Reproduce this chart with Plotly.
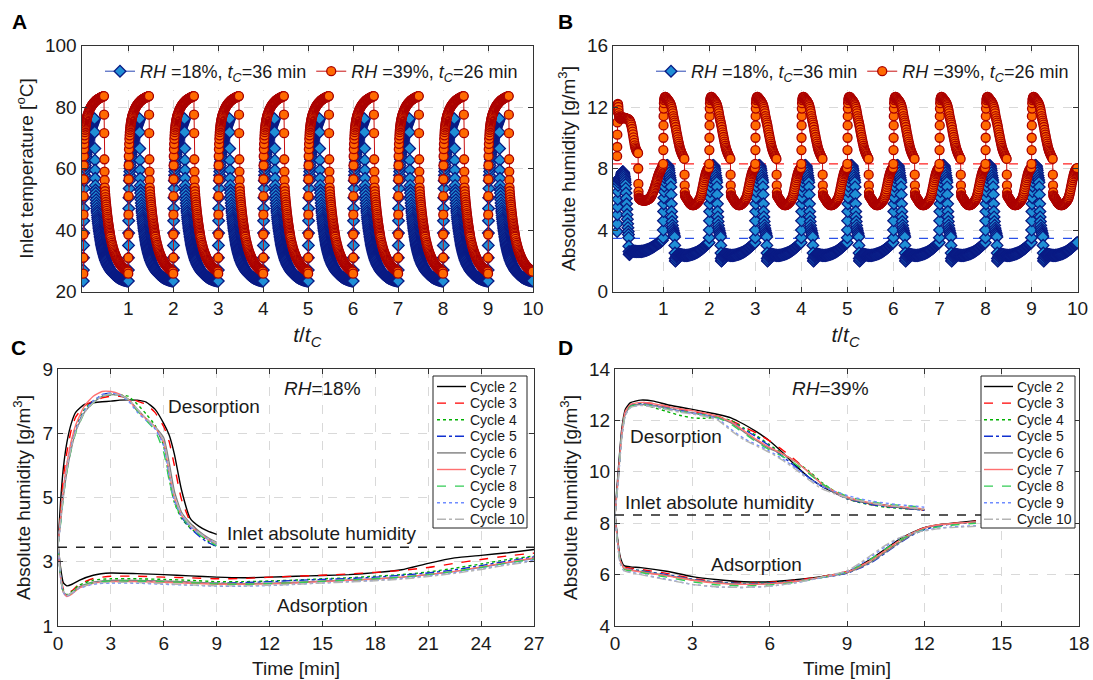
import plotly.graph_objects as go

FONT = "Arial, 'Liberation Sans', Helvetica, sans-serif"
TXT = "#1a1a1a"

N_CYCLES = 10

# ---------------- Panel A: inlet temperature over one cycle, (phase of cycle, degC)
A18_PROFILE = [
    (0.000, 23.4), (0.002, 27), (0.004, 31), (0.006, 35), (0.008, 39), (0.010, 43), (0.013, 47),
    (0.016, 50.5), (0.020, 53.5), (0.025, 56), (0.030, 57.8), (0.035, 59), (0.040, 60), (0.045, 61),
    (0.050, 62), (0.055, 62.9), (0.060, 63.7), (0.065, 64.5), (0.070, 65.2), (0.075, 65.8),
    (0.080, 66.4), (0.085, 66.9), (0.090, 67.4), (0.095, 67.9), (0.100, 68.3), (0.105, 68.7),
    (0.110, 69.1), (0.115, 69.5), (0.120, 69.8), (0.125, 70.2), (0.130, 70.5), (0.135, 70.8),
    (0.140, 71.1), (0.145, 71.4), (0.150, 71.7), (0.155, 72.0), (0.160, 72.3), (0.165, 72.55),
    (0.170, 72.8), (0.175, 73.05), (0.180, 73.3), (0.185, 73.55), (0.190, 73.8), (0.195, 74.0),
    (0.200, 74.2), (0.205, 74.4), (0.210, 74.6), (0.215, 74.8), (0.220, 75.0), (0.225, 75.2),
    (0.230, 75.4), (0.235, 75.6), (0.240, 75.8), (0.245, 76.0), (0.250, 76.2),
    (0.253, 71.8), (0.256, 66.5), (0.259, 62.7), (0.262, 59.5), (0.265, 56.8), (0.268, 54.5),
    (0.272, 53.0), (0.275, 52.0), (0.280, 50.9), (0.285, 49.8), (0.290, 48.8), (0.295, 47.9),
    (0.300, 47.0), (0.305, 46.2), (0.310, 45.5), (0.315, 44.7), (0.320, 44.0), (0.325, 43.4),
    (0.330, 42.8), (0.335, 42.2), (0.340, 41.6), (0.345, 41.0), (0.350, 40.5), (0.355, 40.0),
    (0.360, 39.5), (0.365, 39.0), (0.370, 38.5), (0.375, 38.0), (0.380, 37.55), (0.385, 37.1),
    (0.390, 36.65), (0.395, 36.2), (0.400, 35.8), (0.405, 35.4), (0.410, 35.05), (0.415, 34.7),
    (0.420, 34.35), (0.425, 34.0), (0.430, 33.7), (0.435, 33.4), (0.440, 33.1), (0.445, 32.8),
    (0.450, 32.5), (0.455, 32.25), (0.460, 32.0), (0.465, 31.7), (0.470, 31.45), (0.475, 31.2),
    (0.480, 30.95), (0.485, 30.7), (0.490, 30.45), (0.495, 30.2), (0.500, 30.0), (0.51, 29.6),
    (0.52, 29.25), (0.53, 28.9), (0.54, 28.6), (0.55, 28.3), (0.56, 28.05), (0.57, 27.8),
    (0.58, 27.55), (0.59, 27.25), (0.60, 27.0), (0.61, 26.8), (0.62, 26.6), (0.63, 26.4),
    (0.64, 26.2), (0.65, 26.0), (0.66, 25.85), (0.67, 25.7), (0.68, 25.55), (0.69, 25.45),
    (0.70, 25.3), (0.71, 25.2), (0.72, 25.1), (0.73, 24.95), (0.74, 24.85), (0.75, 24.7),
    (0.76, 24.62), (0.77, 24.55), (0.78, 24.47), (0.79, 24.4), (0.80, 24.3), (0.81, 24.25),
    (0.82, 24.2), (0.83, 24.12), (0.84, 24.06), (0.85, 24.0), (0.86, 23.95), (0.87, 23.9),
    (0.88, 23.85), (0.89, 23.8), (0.90, 23.75), (0.91, 23.71), (0.92, 23.67), (0.93, 23.63),
    (0.94, 23.59), (0.95, 23.55), (0.96, 23.52), (0.97, 23.5), (0.98, 23.47), (0.99, 23.45),
]
A39_PROFILE = [
    (0.000, 25.8), (0.0015, 31), (0.003, 38.5), (0.0045, 45), (0.006, 51), (0.0075, 56.5),
    (0.009, 61), (0.012, 64), (0.016, 66.3), (0.020, 68.0), (0.025, 69.6), (0.030, 70.8),
    (0.035, 71.8), (0.040, 72.6), (0.045, 73.3), (0.050, 73.9), (0.055, 74.4), (0.060, 74.9),
    (0.065, 75.3), (0.070, 75.7), (0.075, 76.05), (0.080, 76.4), (0.085, 76.7), (0.090, 77.0),
    (0.095, 77.3), (0.100, 77.55), (0.11, 78.0), (0.12, 78.4), (0.13, 78.8), (0.14, 79.15),
    (0.15, 79.45), (0.16, 79.75), (0.17, 80.0), (0.18, 80.25), (0.19, 80.5), (0.20, 80.7),
    (0.21, 80.9), (0.22, 81.1), (0.23, 81.3), (0.24, 81.45), (0.25, 81.6), (0.26, 81.75),
    (0.27, 81.9), (0.28, 82.05), (0.29, 82.2), (0.30, 82.3), (0.31, 82.4), (0.32, 82.5),
    (0.33, 82.6), (0.34, 82.7), (0.35, 82.8), (0.36, 82.9), (0.37, 82.98), (0.38, 83.05),
    (0.39, 83.12), (0.40, 83.2), (0.41, 83.27), (0.42, 83.33), (0.43, 83.4), (0.44, 83.45),
    (0.45, 83.5), (0.46, 83.55),
    (0.463, 77.5), (0.466, 71.5), (0.469, 63), (0.472, 59), (0.475, 56.2), (0.478, 53.8),
    (0.482, 52.6), (0.487, 51.6), (0.492, 50.7), (0.497, 49.9), (0.502, 49.1), (0.507, 48.3),
    (0.512, 47.6), (0.517, 46.9), (0.522, 46.2), (0.527, 45.5), (0.532, 44.9), (0.537, 44.3),
    (0.542, 43.7), (0.547, 43.1), (0.552, 42.5), (0.557, 42.0), (0.562, 41.5), (0.567, 41.0),
    (0.572, 40.5), (0.577, 40.0), (0.582, 39.55), (0.587, 39.1), (0.592, 38.65), (0.597, 38.2),
    (0.602, 37.8), (0.612, 37.1), (0.622, 36.4), (0.632, 35.8), (0.642, 35.2), (0.652, 34.65),
    (0.662, 34.1), (0.672, 33.6), (0.682, 33.15), (0.692, 32.7), (0.702, 32.3), (0.712, 31.9),
    (0.722, 31.55), (0.732, 31.2), (0.742, 30.85), (0.752, 30.55), (0.762, 30.25), (0.772, 29.95),
    (0.782, 29.7), (0.792, 29.45), (0.802, 29.2), (0.812, 29.0), (0.822, 28.8), (0.832, 28.6),
    (0.842, 28.4), (0.852, 28.25), (0.862, 28.1), (0.872, 27.95), (0.882, 27.8), (0.892, 27.65),
    (0.902, 27.5), (0.912, 27.37), (0.922, 27.25), (0.932, 27.12), (0.942, 27.0), (0.952, 26.88),
    (0.962, 26.77), (0.972, 26.66), (0.982, 26.55), (0.992, 26.45),
]

# ---------------- Panel B: absolute humidity, (phase of cycle, g/m3)
# first cycle
B18_FIRST = [
    (0.000, 3.9), (0.003, 4.4), (0.006, 5.0), (0.009, 5.5), (0.012, 6.0), (0.016, 6.5), (0.020, 6.9),
    (0.025, 7.1), (0.030, 7.25), (0.036, 7.33), (0.042, 7.35), (0.048, 7.33), (0.054, 7.28),
    (0.060, 7.22), (0.066, 7.2), (0.072, 7.25), (0.078, 7.33), (0.084, 7.42), (0.090, 7.5),
    (0.096, 7.58), (0.102, 7.65), (0.108, 7.71), (0.114, 7.75), (0.120, 7.78), (0.126, 7.78),
    (0.132, 7.76), (0.138, 7.72), (0.144, 7.66), (0.150, 7.58), (0.156, 7.48), (0.162, 7.37),
    (0.168, 7.25), (0.174, 7.1), (0.180, 6.95), (0.186, 6.7), (0.192, 6.4), (0.198, 6.05),
    (0.204, 5.7), (0.210, 5.35), (0.216, 5.0), (0.222, 4.7), (0.228, 4.4), (0.234, 4.15),
    (0.240, 3.9), (0.245, 3.7), (0.250, 3.5), (0.254, 2.95), (0.258, 2.6), (0.263, 2.42),
    (0.269, 2.4), (0.276, 2.45), (0.285, 2.52), (0.295, 2.57), (0.31, 2.6), (0.325, 2.62),
    (0.34, 2.62), (0.355, 2.62), (0.37, 2.62), (0.385, 2.61), (0.4, 2.61), (0.415, 2.6),
    (0.43, 2.6), (0.445, 2.6), (0.46, 2.6), (0.475, 2.6), (0.49, 2.6), (0.505, 2.6), (0.52, 2.61),
    (0.535, 2.61), (0.55, 2.62), (0.565, 2.63), (0.58, 2.64), (0.595, 2.65), (0.61, 2.66),
    (0.625, 2.68), (0.64, 2.69), (0.655, 2.71), (0.67, 2.73), (0.685, 2.75), (0.7, 2.77),
    (0.715, 2.79), (0.73, 2.81), (0.745, 2.84), (0.76, 2.86), (0.775, 2.89), (0.79, 2.92),
    (0.805, 2.95), (0.82, 2.98), (0.835, 3.01), (0.85, 3.04), (0.865, 3.07), (0.88, 3.1),
    (0.895, 3.13), (0.91, 3.16), (0.925, 3.19), (0.94, 3.22), (0.955, 3.26), (0.97, 3.3), (0.985, 3.34),
]
B39_FIRST = [
    (0.000, 8.8), (0.002, 9.4), (0.004, 10.2), (0.006, 11.0), (0.008, 11.7), (0.011, 12.1),
    (0.016, 12.2), (0.021, 12.15), (0.026, 12.0), (0.031, 11.8), (0.036, 11.6), (0.041, 11.45),
    (0.047, 11.35), (0.054, 11.3), (0.064, 11.27), (0.074, 11.25), (0.084, 11.25), (0.094, 11.25),
    (0.104, 11.26), (0.114, 11.28), (0.124, 11.3), (0.134, 11.3), (0.144, 11.3), (0.154, 11.3),
    (0.164, 11.29), (0.174, 11.28), (0.184, 11.27), (0.194, 11.26), (0.204, 11.25), (0.214, 11.24),
    (0.224, 11.23), (0.234, 11.22), (0.244, 11.2), (0.254, 11.18), (0.264, 11.15), (0.274, 11.1),
    (0.284, 11.03), (0.294, 10.95), (0.304, 10.85), (0.314, 10.72), (0.324, 10.57), (0.334, 10.4),
    (0.344, 10.22), (0.354, 10.03), (0.364, 9.85), (0.374, 9.67), (0.384, 9.5), (0.394, 9.38),
    (0.404, 9.28), (0.414, 9.2), (0.424, 9.13), (0.434, 9.08), (0.444, 9.04), (0.454, 9.0),
    (0.458, 8.0), (0.461, 7.0), (0.464, 6.5), (0.468, 6.25), (0.473, 6.1), (0.48, 6.05),
    (0.49, 6.02), (0.5, 6.0), (0.51, 5.98), (0.52, 5.96), (0.53, 5.95), (0.54, 5.94), (0.55, 5.93),
    (0.56, 5.92), (0.57, 5.92), (0.58, 5.92), (0.59, 5.92), (0.6, 5.92), (0.61, 5.92), (0.62, 5.93),
    (0.63, 5.94), (0.64, 5.95), (0.65, 5.97), (0.66, 5.98), (0.67, 6.0), (0.68, 6.01), (0.69, 6.03),
    (0.7, 6.05), (0.71, 6.08), (0.72, 6.11), (0.73, 6.15), (0.74, 6.2), (0.75, 6.26), (0.76, 6.32),
    (0.77, 6.39), (0.78, 6.46), (0.79, 6.54), (0.8, 6.62), (0.81, 6.71), (0.82, 6.8), (0.83, 6.9),
    (0.84, 7.0), (0.85, 7.1), (0.86, 7.2), (0.87, 7.3), (0.88, 7.4), (0.89, 7.5), (0.9, 7.59),
    (0.91, 7.67), (0.92, 7.74), (0.93, 7.8), (0.94, 7.86), (0.95, 7.92), (0.96, 7.98), (0.97, 8.05),
    (0.98, 8.12), (0.99, 8.2),
]
# cycles 2-10
B18_CYCLE = [
    (0.000, 3.5), (0.003, 4.0), (0.006, 4.6), (0.009, 5.2), (0.012, 5.7), (0.015, 6.1), (0.019, 6.5),
    (0.023, 6.85), (0.028, 7.15), (0.033, 7.4), (0.039, 7.6), (0.045, 7.78), (0.052, 7.92),
    (0.060, 8.03), (0.068, 8.12), (0.076, 8.18), (0.084, 8.2), (0.092, 8.2), (0.100, 8.18),
    (0.108, 8.12), (0.116, 8.02), (0.124, 7.88), (0.132, 7.72), (0.140, 7.55), (0.148, 7.4),
    (0.156, 7.25), (0.162, 7.1), (0.167, 6.8), (0.172, 6.3), (0.177, 5.7), (0.182, 5.2),
    (0.187, 4.85), (0.193, 4.55), (0.200, 4.3), (0.208, 4.12), (0.216, 3.98), (0.224, 3.85),
    (0.232, 3.75), (0.240, 3.65), (0.248, 3.55), (0.252, 3.0), (0.256, 2.5), (0.260, 2.15),
    (0.265, 1.98), (0.271, 2.0), (0.278, 2.12), (0.286, 2.25), (0.295, 2.33), (0.305, 2.38),
    (0.32, 2.41), (0.335, 2.42), (0.35, 2.42), (0.365, 2.41), (0.38, 2.4), (0.395, 2.39),
    (0.41, 2.38), (0.425, 2.37), (0.44, 2.36), (0.455, 2.35), (0.47, 2.35), (0.485, 2.34),
    (0.5, 2.34), (0.515, 2.35), (0.53, 2.35), (0.545, 2.36), (0.56, 2.37), (0.575, 2.38),
    (0.59, 2.39), (0.605, 2.4), (0.62, 2.42), (0.635, 2.43), (0.65, 2.45), (0.665, 2.46),
    (0.68, 2.48), (0.695, 2.5), (0.71, 2.52), (0.725, 2.54), (0.74, 2.57), (0.755, 2.59),
    (0.77, 2.62), (0.785, 2.65), (0.8, 2.68), (0.815, 2.71), (0.83, 2.75), (0.845, 2.78),
    (0.86, 2.82), (0.875, 2.86), (0.89, 2.9), (0.905, 2.94), (0.92, 2.98), (0.935, 3.02),
    (0.95, 3.06), (0.965, 3.1), (0.98, 3.14), (0.995, 3.18),
]
B39_CYCLE = [
    (0.000, 8.3), (0.003, 9.2), (0.005, 10.0), (0.007, 10.8), (0.009, 11.4), (0.012, 11.9),
    (0.016, 12.25), (0.021, 12.45), (0.027, 12.55), (0.034, 12.62), (0.042, 12.65), (0.05, 12.65),
    (0.06, 12.62), (0.07, 12.58), (0.08, 12.55), (0.09, 12.51), (0.10, 12.47), (0.11, 12.43),
    (0.12, 12.39), (0.13, 12.35), (0.14, 12.3), (0.15, 12.25), (0.16, 12.18), (0.17, 12.1),
    (0.18, 12.0), (0.19, 11.88), (0.2, 11.74), (0.21, 11.58), (0.22, 11.4), (0.23, 11.26),
    (0.24, 11.12), (0.25, 10.99), (0.26, 10.85), (0.27, 10.7), (0.28, 10.52), (0.29, 10.35),
    (0.3, 10.2), (0.31, 10.05), (0.32, 9.9), (0.33, 9.75), (0.34, 9.62), (0.35, 9.48), (0.36, 9.35),
    (0.37, 9.25), (0.38, 9.16), (0.39, 9.08), (0.4, 9.0), (0.41, 8.93), (0.42, 8.86), (0.43, 8.8),
    (0.44, 8.74), (0.45, 8.68), (0.46, 8.62),
    (0.464, 7.6), (0.467, 6.9), (0.470, 6.45), (0.474, 6.25), (0.48, 6.2), (0.49, 6.15), (0.5, 6.1),
    (0.51, 6.06), (0.52, 6.02), (0.53, 5.97), (0.54, 5.92), (0.55, 5.87), (0.56, 5.82), (0.57, 5.78),
    (0.58, 5.74), (0.59, 5.71), (0.6, 5.68), (0.61, 5.66), (0.62, 5.64), (0.63, 5.63), (0.64, 5.62),
    (0.65, 5.62), (0.66, 5.62), (0.67, 5.63), (0.68, 5.64), (0.69, 5.66), (0.7, 5.68), (0.71, 5.7),
    (0.72, 5.73), (0.73, 5.76), (0.74, 5.79), (0.75, 5.82), (0.76, 5.86), (0.77, 5.9), (0.78, 5.95),
    (0.79, 6.0), (0.8, 6.05), (0.81, 6.14), (0.82, 6.25), (0.83, 6.37), (0.84, 6.5), (0.85, 6.65),
    (0.86, 6.8), (0.87, 6.95), (0.88, 7.1), (0.89, 7.24), (0.9, 7.38), (0.91, 7.5), (0.92, 7.62),
    (0.93, 7.72), (0.94, 7.8), (0.95, 7.87), (0.96, 7.92), (0.97, 7.96), (0.98, 8.0), (0.99, 8.03),
]
INLET18 = 3.45   # inlet absolute humidity, RH = 18 %
INLET39 = 8.3    # inlet absolute humidity, RH = 39 %

CYCLE_NAMES = ["Cycle 2", "Cycle 3", "Cycle 4", "Cycle 5", "Cycle 6",
               "Cycle 7", "Cycle 8", "Cycle 9", "Cycle 10"]

# ---------------- Panel C: RH = 18 %  (time [min], g/m3)
C_DES_T = [0, 0.15, 0.3, 0.5, 0.75, 1.0, 1.5, 2.0, 2.5, 3.0, 3.5, 4.0, 4.5, 5.0, 5.5, 6.0,
           6.3, 6.6, 7.0, 7.5, 8.0, 8.5, 9.0]
C_DES = [
    [3.55, 4.9, 5.9, 6.7, 7.3, 7.65, 7.9, 7.95, 7.98, 8.0, 8.03, 8.04, 8.03, 7.97, 7.75, 7.3, 6.95, 6.35, 5.25, 4.35, 4.1, 3.95, 3.85],
    [3.5, 4.6, 5.6, 6.4, 7.1, 7.5, 7.85, 8.0, 8.1, 8.15, 8.15, 8.1, 8.0, 7.9, 7.65, 7.2, 6.75, 6.0, 4.95, 4.25, 3.9, 3.7, 3.55],
    [3.5, 4.4, 5.2, 6.0, 6.7, 7.2, 7.75, 8.0, 8.15, 8.2, 8.2, 8.15, 7.9, 7.6, 7.25, 6.6, 5.6, 4.85, 4.35, 4.05, 3.85, 3.65, 3.45],
    [3.5, 4.3, 5.1, 5.9, 6.6, 7.1, 7.7, 8.0, 8.2, 8.25, 8.2, 8.05, 7.7, 7.45, 7.15, 6.7, 5.8, 4.95, 4.4, 4.05, 3.8, 3.6, 3.48],
    [3.5, 4.25, 5.0, 5.8, 6.5, 7.05, 7.65, 7.95, 8.15, 8.2, 8.18, 8.05, 7.75, 7.45, 7.2, 6.85, 6.1, 5.2, 4.55, 4.2, 3.95, 3.75, 3.6],
    [3.5, 4.4, 5.25, 6.05, 6.75, 7.25, 7.85, 8.15, 8.3, 8.3, 8.22, 8.05, 7.7, 7.45, 7.2, 6.7, 5.8, 5.0, 4.45, 4.1, 3.9, 3.7, 3.55],
    [3.5, 4.2, 5.0, 5.8, 6.5, 7.0, 7.65, 7.95, 8.15, 8.22, 8.2, 8.05, 7.7, 7.4, 7.1, 6.4, 5.55, 4.85, 4.4, 4.1, 3.85, 3.65, 3.5],
    [3.5, 4.3, 5.1, 5.9, 6.6, 7.1, 7.7, 8.0, 8.2, 8.25, 8.2, 8.0, 7.65, 7.4, 7.15, 6.6, 5.7, 4.9, 4.45, 4.1, 3.9, 3.7, 3.55],
    [3.5, 4.3, 5.05, 5.85, 6.55, 7.05, 7.65, 7.95, 8.15, 8.22, 8.2, 8.05, 7.75, 7.45, 7.2, 6.75, 5.9, 5.05, 4.5, 4.15, 3.9, 3.72, 3.58],
]
C_ADS_T = [0, 0.15, 0.3, 0.5, 0.8, 1.2, 2, 3, 4.5, 6, 7.5, 9, 10.5, 12, 13.5, 15, 16.5, 18,
           19.5, 21, 22.5, 24, 25.5, 27]
C_ADS = [
    [3.55, 2.8, 2.35, 2.25, 2.3, 2.42, 2.58, 2.65, 2.63, 2.6, 2.56, 2.52, 2.5, 2.52, 2.55, 2.57, 2.6, 2.66, 2.75, 2.95, 3.12, 3.2, 3.28, 3.38],
    [3.5, 2.6, 2.15, 2.0, 2.1, 2.3, 2.48, 2.55, 2.55, 2.52, 2.5, 2.47, 2.48, 2.52, 2.55, 2.58, 2.62, 2.67, 2.73, 2.82, 2.95, 3.07, 3.18, 3.27],
    [3.45, 2.55, 2.1, 1.97, 2.08, 2.27, 2.43, 2.47, 2.47, 2.45, 2.42, 2.38, 2.38, 2.4, 2.43, 2.47, 2.5, 2.55, 2.6, 2.68, 2.8, 2.93, 3.07, 3.18],
    [3.48, 2.5, 2.05, 1.93, 2.03, 2.2, 2.35, 2.4, 2.4, 2.38, 2.35, 2.33, 2.35, 2.38, 2.42, 2.45, 2.48, 2.52, 2.58, 2.65, 2.75, 2.88, 3.02, 3.15],
    [3.6, 2.55, 2.08, 1.95, 2.05, 2.22, 2.37, 2.42, 2.42, 2.4, 2.37, 2.33, 2.32, 2.33, 2.36, 2.4, 2.43, 2.47, 2.52, 2.6, 2.7, 2.83, 2.97, 3.1],
    [3.55, 2.5, 2.05, 1.92, 2.0, 2.18, 2.33, 2.38, 2.38, 2.36, 2.33, 2.3, 2.3, 2.31, 2.34, 2.38, 2.42, 2.46, 2.52, 2.6, 2.7, 2.84, 2.98, 3.12],
    [3.5, 2.5, 2.06, 1.94, 2.04, 2.2, 2.35, 2.4, 2.4, 2.38, 2.35, 2.31, 2.3, 2.32, 2.35, 2.39, 2.43, 2.47, 2.52, 2.6, 2.7, 2.82, 2.96, 3.08],
    [3.55, 2.52, 2.05, 1.93, 2.02, 2.17, 2.3, 2.34, 2.33, 2.3, 2.27, 2.24, 2.24, 2.26, 2.3, 2.34, 2.38, 2.42, 2.48, 2.56, 2.66, 2.78, 2.92, 3.05],
    [3.58, 2.52, 2.07, 1.95, 2.04, 2.2, 2.33, 2.36, 2.35, 2.32, 2.28, 2.25, 2.25, 2.27, 2.3, 2.34, 2.37, 2.41, 2.46, 2.54, 2.64, 2.76, 2.9, 3.02],
]

# ---------------- Panel D: RH = 39 %  (time [min], g/m3)
D_DES_T = [0, 0.13, 0.26, 0.4, 0.6, 1.0, 1.5, 2.0, 2.5, 3.0, 3.5, 4.0, 4.5, 5.0, 5.5, 6.0, 6.5,
           7.0, 7.5, 8.0, 8.5, 9.0, 9.5, 10.0, 10.5, 11.0, 11.5, 12.0]
D_DES = [
    [8.4, 10.1, 11.65, 12.43, 12.69, 12.79, 12.75, 12.62, 12.52, 12.43, 12.33, 12.23, 12.1, 11.85, 11.55, 11.2, 10.75, 10.25, 9.8, 9.45, 9.2, 9.0, 8.85, 8.75, 8.7, 8.62, 8.57, 8.52],
    [8.3, 9.8, 11.4, 12.3, 12.6, 12.7, 12.65, 12.55, 12.45, 12.35, 12.25, 12.15, 12.0, 11.75, 11.5, 11.2, 10.85, 10.45, 10.0, 9.55, 9.2, 8.95, 8.82, 8.72, 8.65, 8.6, 8.55, 8.5],
    [8.3, 9.8, 11.4, 12.25, 12.55, 12.65, 12.5, 12.35, 12.2, 12.1, 12.08, 12.12, 12.0, 11.7, 11.4, 11.05, 10.7, 10.4, 10.05, 9.6, 9.25, 8.95, 8.8, 8.7, 8.62, 8.58, 8.55, 8.52],
    [8.3, 9.9, 11.5, 12.3, 12.6, 12.65, 12.6, 12.5, 12.4, 12.3, 12.22, 12.12, 11.95, 11.65, 11.35, 11.0, 10.6, 10.2, 9.8, 9.45, 9.2, 8.95, 8.82, 8.72, 8.65, 8.6, 8.55, 8.5],
    [8.3, 9.8, 11.4, 12.25, 12.55, 12.62, 12.58, 12.48, 12.38, 12.3, 12.2, 12.1, 11.9, 11.55, 11.2, 10.9, 10.7, 10.4, 10.0, 9.55, 9.2, 8.97, 8.85, 8.75, 8.68, 8.62, 8.57, 8.53],
    [8.3, 9.9, 11.5, 12.35, 12.62, 12.7, 12.65, 12.55, 12.45, 12.38, 12.28, 12.15, 11.95, 11.6, 11.25, 10.95, 10.7, 10.4, 10.0, 9.55, 9.25, 9.02, 8.88, 8.78, 8.7, 8.65, 8.6, 8.55],
    [8.3, 9.8, 11.4, 12.25, 12.55, 12.62, 12.55, 12.45, 12.35, 12.28, 12.2, 12.1, 11.85, 11.5, 11.15, 10.85, 10.6, 10.3, 9.95, 9.55, 9.28, 9.05, 8.92, 8.82, 8.75, 8.7, 8.66, 8.62],
    [8.3, 9.7, 11.3, 12.2, 12.5, 12.6, 12.55, 12.45, 12.35, 12.28, 12.2, 12.05, 11.65, 11.3, 11.05, 10.8, 10.5, 10.15, 9.75, 9.45, 9.25, 9.08, 8.95, 8.85, 8.78, 8.72, 8.68, 8.62],
    [8.3, 9.7, 11.3, 12.2, 12.5, 12.58, 12.52, 12.42, 12.32, 12.25, 12.15, 12.0, 11.6, 11.25, 11.0, 10.75, 10.45, 10.1, 9.7, 9.35, 9.15, 9.0, 8.88, 8.78, 8.7, 8.65, 8.6, 8.55],
]
D_ADS_T = [0, 0.1, 0.2, 0.35, 0.6, 1.0, 2.0, 3.0, 4.0, 5.0, 6.0, 7.0, 8.0, 9.0, 9.5, 10.0, 10.5,
           11.0, 11.5, 12.0, 12.5, 13.0, 14.0]
D_ADS = [
    [8.4, 7.4, 6.7, 6.35, 6.3, 6.27, 6.13, 5.92, 5.8, 5.72, 5.72, 5.8, 5.92, 6.1, 6.35, 6.65, 7.0, 7.35, 7.62, 7.83, 7.93, 7.99, 8.1],
    [8.3, 7.3, 6.6, 6.3, 6.25, 6.2, 6.05, 5.85, 5.72, 5.68, 5.7, 5.78, 5.92, 6.12, 6.32, 6.6, 6.95, 7.3, 7.62, 7.82, 7.93, 7.99, 8.08],
    [8.3, 7.3, 6.55, 6.25, 6.2, 6.15, 5.98, 5.8, 5.7, 5.66, 5.68, 5.75, 5.9, 6.08, 6.28, 6.55, 6.9, 7.25, 7.55, 7.78, 7.9, 7.97, 8.05],
    [8.3, 7.3, 6.55, 6.25, 6.2, 6.15, 6.0, 5.82, 5.7, 5.65, 5.67, 5.75, 5.88, 6.05, 6.25, 6.5, 6.85, 7.2, 7.52, 7.75, 7.88, 7.96, 8.05],
    [8.3, 7.3, 6.55, 6.25, 6.18, 6.12, 5.97, 5.8, 5.68, 5.63, 5.65, 5.73, 5.88, 6.07, 6.27, 6.53, 6.88, 7.22, 7.55, 7.8, 7.92, 7.98, 8.05],
    [8.3, 7.3, 6.55, 6.25, 6.18, 6.1, 5.95, 5.78, 5.66, 5.62, 5.64, 5.73, 5.9, 6.1, 6.32, 6.6, 6.95, 7.3, 7.6, 7.82, 7.93, 7.98, 8.05],
    [8.3, 7.25, 6.5, 6.2, 6.15, 6.08, 5.9, 5.72, 5.6, 5.56, 5.6, 5.7, 5.88, 6.1, 6.35, 6.65, 7.0, 7.32, 7.58, 7.75, 7.85, 7.92, 8.0],
    [8.3, 7.2, 6.45, 6.15, 6.1, 6.02, 5.82, 5.62, 5.52, 5.5, 5.55, 5.68, 5.88, 6.12, 6.4, 6.75, 7.1, 7.4, 7.6, 7.72, 7.8, 7.85, 7.9],
    [8.3, 7.2, 6.45, 6.15, 6.08, 6.0, 5.8, 5.62, 5.52, 5.5, 5.55, 5.68, 5.9, 6.15, 6.45, 6.8, 7.15, 7.42, 7.6, 7.7, 7.78, 7.83, 7.88],
]
INLET_C = 3.45
INLET_D = 8.32

CYCLE_COLORS = ["#000000", "#ff0000", "#00b000", "#1030d0", "#7f7f7f",
                "#ff7070", "#33cc55", "#6f8cff", "#b4b4b4"]
CYCLE_DASH = ["solid", "dash", "dot", "dashdot", "solid", "solid", "dash", "dot", "dashdot"]

LEG18 = "<i>RH</i> =18%, <i>t<sub>C</sub></i>=36 min"
LEG39 = "<i>RH</i> =39%, <i>t<sub>C</sub></i>=26 min"

# ---------------- build series (cycle index + phase within cycle)
def place_cycles(profiles):
    xs, ys = [], []
    for c, prof in enumerate(profiles):
        xs.extend(c + p for p, _ in prof)
        ys.extend(v for _, v in prof)
    return xs, ys

ax18, ay18 = place_cycles([A18_PROFILE] * N_CYCLES)
ax39, ay39 = place_cycles([A39_PROFILE] * N_CYCLES)
bx18, by18 = place_cycles([B18_FIRST] + [B18_CYCLE] * (N_CYCLES - 1))
bx39, by39 = place_cycles([B39_FIRST] + [B39_CYCLE] * (N_CYCLES - 1))

blue_marker = dict(symbol="diamond", size=9, color="#1f8fd6", line=dict(color="#0a1a84", width=1.3))
red_marker = dict(symbol="circle", size=9, color="#ff6a00", line=dict(color="#aa0000", width=1.3))
blue_line = dict(color="#2846b4", width=1)
red_line = dict(color="#c81010", width=1)

fig = go.Figure()

# Panel A
fig.add_trace(go.Scatter(x=ax18, y=ay18, mode="lines+markers", name=LEG18, line=blue_line,
                         marker=blue_marker, xaxis="x", yaxis="y", legend="legend"))
fig.add_trace(go.Scatter(x=ax39, y=ay39, mode="lines+markers", name=LEG39, line=red_line,
                         marker=red_marker, xaxis="x", yaxis="y", legend="legend"))

# Panel B
XB = [-0.09, 10.01]
fig.add_trace(go.Scatter(x=XB, y=[INLET39, INLET39], mode="lines", showlegend=False,
                         line=dict(color="#ff2020", width=1.3, dash="dash"),
                         xaxis="x2", yaxis="y2", legend="legend2"))
fig.add_trace(go.Scatter(x=XB, y=[INLET18, INLET18], mode="lines", showlegend=False,
                         line=dict(color="#2a50e8", width=1.3, dash="dash"),
                         xaxis="x2", yaxis="y2", legend="legend2"))
fig.add_trace(go.Scatter(x=bx18, y=by18, mode="lines+markers", name=LEG18, line=blue_line,
                         marker=blue_marker, xaxis="x2", yaxis="y2", legend="legend2"))
fig.add_trace(go.Scatter(x=bx39, y=by39, mode="lines+markers", name=LEG39, line=red_line,
                         marker=red_marker, xaxis="x2", yaxis="y2", legend="legend2"))

# Panels C and D (keys are drawn as boxed legends below)
for k, name in enumerate(CYCLE_NAMES):
    ln = dict(color=CYCLE_COLORS[k], width=1.4, dash=CYCLE_DASH[k], shape="spline", smoothing=0.5)
    for xs, ys, xa, ya in [(C_DES_T, C_DES[k], "x3", "y3"), (C_ADS_T, C_ADS[k], "x3", "y3"),
                           (D_DES_T, D_DES[k], "x4", "y4"), (D_ADS_T, D_ADS[k], "x4", "y4")]:
        fig.add_trace(go.Scatter(x=xs, y=ys, mode="lines", name=name, line=ln, showlegend=False,
                                 xaxis=xa, yaxis=ya))

fig.add_trace(go.Scatter(x=[0, 27], y=[INLET_C, INLET_C], mode="lines", showlegend=False,
                         line=dict(color="#222222", width=1.4, dash="dash"), xaxis="x3", yaxis="y3"))
fig.add_trace(go.Scatter(x=[0, 18], y=[INLET_D, INLET_D], mode="lines", showlegend=False,
                         line=dict(color="#222222", width=1.4, dash="dash"), xaxis="x4", yaxis="y4"))

# ---------------- axes
def ax(**kw):
    d = dict(showline=True, linecolor="#333333", linewidth=1, mirror="ticks", ticks="inside",
             ticklen=5, tickwidth=1, tickcolor="#333333", showgrid=True, gridcolor="#d9d9d9",
             gridwidth=1, griddash="dash", zeroline=False, automargin=False,
             tickfont=dict(size=19, color=TXT, family=FONT))
    d.update(kw)
    return d

W, H = 1093, 680
def px_x(a, b):
    return [a / W, b / W]
def px_y(top, bot):
    return [1 - bot / H, 1 - top / H]

TITLE_FONT = dict(size=19, color=TXT, family=FONT)
TTC = "<i>t</i>/<i>t<sub>C</sub></i>"
YAH = "Absolute humidity [g/m<sup>3</sup>]"

fig.update_layout(
    xaxis=ax(domain=px_x(81.5, 533), range=[-0.04, 10], tickvals=list(range(1, 11)),
             title=dict(text=TTC, font=dict(size=21, color=TXT, family=FONT), standoff=9), anchor="y"),
    yaxis=ax(domain=px_y(45.5, 291.5), range=[20, 100], tickvals=[20, 40, 60, 80, 100],
             title=dict(text="Inlet temperature [<sup>o</sup>C]", font=TITLE_FONT, standoff=6), anchor="x"),
    xaxis2=ax(domain=px_x(613, 1078), range=[-0.09, 10.01], tickvals=list(range(1, 11)),
              title=dict(text=TTC, font=dict(size=21, color=TXT, family=FONT), standoff=9), anchor="y2"),
    yaxis2=ax(domain=px_y(45.5, 291.5), range=[0, 16], tickvals=[0, 4, 8, 12, 16],
              title=dict(text=YAH, font=TITLE_FONT, standoff=6), anchor="x2"),
    xaxis3=ax(domain=px_x(58, 534), range=[0, 27], tickvals=list(range(0, 28, 3)),
              title=dict(text="Time [min]", font=TITLE_FONT, standoff=8), anchor="y3"),
    yaxis3=ax(domain=px_y(369, 626), range=[1, 9], tickvals=[1, 3, 5, 7, 9],
              title=dict(text=YAH, font=TITLE_FONT, standoff=6), anchor="x3"),
    xaxis4=ax(domain=px_x(615, 1079), range=[0, 18], tickvals=list(range(0, 19, 3)),
              title=dict(text="Time [min]", font=TITLE_FONT, standoff=8), anchor="y4"),
    yaxis4=ax(domain=px_y(369, 626), range=[4, 14], tickvals=[4, 6, 8, 10, 12, 14],
              title=dict(text=YAH, font=TITLE_FONT, standoff=6), anchor="x4"),
)

leg_top = dict(orientation="h", xanchor="left", yanchor="top", bgcolor="white", borderwidth=0,
               font=dict(size=18, color=TXT, family=FONT), itemwidth=30, traceorder="normal")
fig.update_layout(
    legend=dict(leg_top, x=100 / W, y=1 - 53 / H),
    legend2=dict(leg_top, x=651 / W, y=1 - 53 / H),
)

# boxed cycle keys for panels C and D
shapes = []
annotations = []
key_font = dict(size=14, color=TXT, family=FONT)
for bx0, bx1, lx0, lx1 in [(433, 527, 437, 466), (981, 1075, 984, 1013)]:
    shapes.append(dict(type="rect", xref="paper", yref="paper", x0=bx0 / W, x1=bx1 / W,
                       y0=1 - 528 / H, y1=1 - 376 / H, line=dict(color="#222222", width=1),
                       fillcolor="white", layer="above"))
    for k, name in enumerate(CYCLE_NAMES):
        yc = 386.5 + 16.6 * k
        shapes.append(dict(type="line", xref="paper", yref="paper", x0=lx0 / W, x1=lx1 / W,
                           y0=1 - yc / H, y1=1 - yc / H, layer="above",
                           line=dict(color=CYCLE_COLORS[k], width=1.4, dash=CYCLE_DASH[k])))
        annotations.append(dict(text=name, x=(lx1 + 2) / W, y=1 - yc / H, xref="paper", yref="paper",
                                xanchor="left", yanchor="middle", showarrow=False, font=key_font))

ann_font = dict(size=19, color=TXT, family=FONT)
for letter, x0, y0 in [("A", 10, 8), ("B", 556, 8), ("C", 9, 334), ("D", 556, 334)]:
    annotations.append(dict(text="<b>%s</b>" % letter, x=x0 / W, y=1 - y0 / H, xref="paper", yref="paper",
                            xanchor="left", yanchor="top", showarrow=False,
                            font=dict(size=21, color="#000000", family=FONT)))
for txt, x, y, xr, yr in [
    ("<i>RH</i>=18%", 15.0, 8.38, "x3", "y3"),
    ("Desorption", 8.85, 7.82, "x3", "y3"),
    ("Inlet absolute humidity", 15.0, 3.89, "x3", "y3"),
    ("Adsorption", 15.0, 1.65, "x3", "y3"),
    ("<i>RH</i>=39%", 8.36, 13.26, "x4", "y4"),
    ("Desorption", 2.38, 11.39, "x4", "y4"),
    ("Inlet absolute humidity", 4.07, 8.79, "x4", "y4"),
    ("Adsorption", 5.5, 6.41, "x4", "y4"),
]:
    annotations.append(dict(text=txt, x=x, y=y, xref=xr, yref=yr, showarrow=False, font=ann_font,
                            xanchor="center", yanchor="middle"))

fig.update_layout(
    width=W, height=H, margin=dict(l=0, r=0, t=0, b=0),
    paper_bgcolor="white", plot_bgcolor="white", template="none",
    font=dict(family=FONT, color=TXT), annotations=annotations, shapes=shapes,
)

fig.write_html("out.html", config={"displayModeBar": False},
               post_script="document.body.style.margin='0px';")
